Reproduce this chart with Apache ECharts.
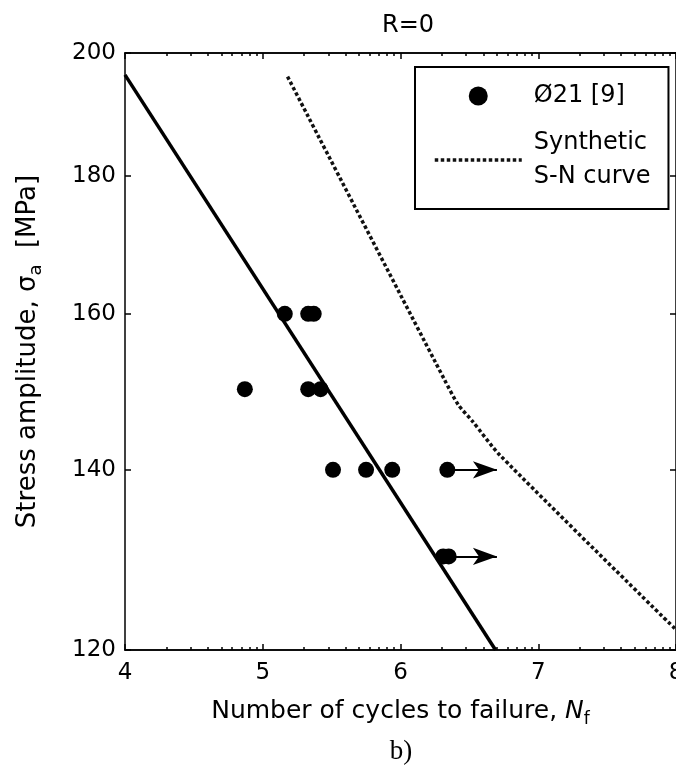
<!DOCTYPE html>
<html>
<head>
<meta charset="utf-8">
<script src="https://cdn.jsdelivr.net/npm/echarts@6/dist/echarts.min.js"></script>
<style>
html,body{margin:0;padding:0;background:#fff;}
#chart{width:676px;height:771px;}
</style>
</head>
<body>
<div id="chart"></div>
<script>
// ---- data ----
const xTicks = [4, 5, 6, 7, 8];
const yTicks = [120, 140, 160, 180, 200];
// experimental points, Ø21 [9]
const dotsX = [5.16, 5.33, 5.37, 4.87, 5.33, 5.42, 5.51, 5.75, 5.94, 6.34, 6.31, 6.35];
const dotsY = [160, 160, 160, 150, 150, 150, 140, 140, 140, 140, 130, 130];
// run-outs (arrows)
const runStartX = [6.34, 6.35];
const runY = [140, 130];
const runEndX = [6.70, 6.70];
// fitted (solid) line
const fitX = [4.0, 6.69];
const fitY = [196.3, 120];
// synthetic S-N curve (dotted)
const snX = [5.18, 6.32, 6.42, 6.52, 6.72, 8.0];
const snY = [196, 151.2, 148, 146, 141.8, 122.1];
// log-decade minor tick positions
const minorX = [];
for (let d = 4; d < 8; d++) for (let k = 2; k <= 9; k++) minorX.push(d + Math.log10(k));

const FONT = 'DejaVu Sans';
const chart = echarts.init(document.getElementById('chart'), null, {renderer: 'canvas'});

const axisLine = {show: true, lineStyle: {color: '#000', width: 1.5}};
function xAx(pos, ticks, len, labels, name) {
  const a = {
    type: 'value', position: pos, min: 4, max: 8, interval: 1,
    axisLine: axisLine, splitLine: {show: false},
    axisTick: {show: true, inside: true, length: len, lineStyle: {color: '#000', width: 1.5}},
    axisLabel: {show: labels, color: '#000', fontFamily: FONT, fontSize: 23, margin: 12},
  };
  if (ticks) a.axisTick.customValues = ticks;
  if (name) {
    a.name = '{n|Number of cycles to failure, }{i|N}{s|f}';
    a.nameLocation = 'middle';
    a.nameGap = 44;
    a.nameTextStyle = {
      color: '#000', fontFamily: FONT, fontSize: 25,
      rich: {
        n: {fontFamily: FONT, fontSize: 25, color: '#000', lineHeight: 34, verticalAlign: 'middle'},
        i: {fontFamily: FONT, fontSize: 25, color: '#000', fontStyle: 'italic', lineHeight: 34, verticalAlign: 'middle'},
        s: {fontFamily: FONT, fontSize: 17, color: '#000', lineHeight: 34, verticalAlign: 'bottom'}
      }
    };
  }
  return a;
}
function yAx(pos, labels, name) {
  const a = {
    type: 'log', logBase: 10, position: pos, min: 120, max: 200,
    axisLine: axisLine, splitLine: {show: false}, minorTick: {show: false},
    axisTick: {show: true, inside: true, length: 6, customValues: yTicks, lineStyle: {color: '#000', width: 1.5}},
    axisLabel: {show: labels, customValues: yTicks, color: '#000', fontFamily: FONT, fontSize: 23, margin: 9},
  };
  if (name) {
    a.name = '{n|Stress amplitude, σ}{s|a}{n|  [MPa]}';
    a.nameLocation = 'middle';
    a.nameGap = 80;
    a.nameTextStyle = {
      color: '#000', fontFamily: FONT, fontSize: 26,
      rich: {
        n: {fontFamily: FONT, fontSize: 26, color: '#000', lineHeight: 34, verticalAlign: 'middle'},
        s: {fontFamily: FONT, fontSize: 18, color: '#000', lineHeight: 34, verticalAlign: 'bottom'}
      }
    };
  }
  return a;
}

const option = {
  animation: false,
  backgroundColor: '#fff',
  title: [
    {text: 'R=0', left: 403, top: 9, textAlign: 'center',
     textStyle: {fontFamily: FONT, fontSize: 24, fontWeight: 'normal', color: '#000'}},
    {text: 'b)', left: 396, top: 733, textAlign: 'center',
     textStyle: {fontFamily: 'Liberation Serif', fontSize: 27, fontWeight: 'normal', color: '#000'}}
  ],
  grid: {left: 125, right: 0, top: 53, bottom: 121, containLabel: false, outerBoundsMode: 'none'},
  xAxis: [
    xAx('bottom', null, 6, true, true),
    xAx('bottom', minorX, 3, false, false),
    xAx('top', null, 6, false, false),
    xAx('top', minorX, 3, false, false)
  ],
  yAxis: [
    yAx('left', true, true),
    yAx('right', false, false)
  ],
  legend: {
    show: true, orient: 'vertical', left: 415, top: 67,
    padding: [12, 18, 15, 18], itemGap: 13,
    itemWidth: 87, itemHeight: 19,
    borderColor: '#000', borderWidth: 2, backgroundColor: '#fff',
    selectedMode: false,
    textStyle: {fontFamily: FONT, fontSize: 24, color: '#000', lineHeight: 34, padding: [0, 0, 0, 7]},
    data: [
      {name: 'Ø21 [9]', icon: 'circle', itemStyle: {color: '#000', opacity: 1}},
      {name: 'Synthetic\nS-N curve', itemStyle: {opacity: 0},
       lineStyle: {color: '#111', width: 3.5, type: [3.5, 2.5], opacity: 1}}
    ]
  },
  series: [
    {
      name: 'fit', type: 'line', xAxisIndex: 0, yAxisIndex: 0,
      data: fitX.map((x, i) => [x, fitY[i]]),
      symbol: 'none', lineStyle: {color: '#000', width: 3.5}, silent: true, z: 3
    },
    {
      name: 'Synthetic\nS-N curve', type: 'line', xAxisIndex: 0, yAxisIndex: 0,
      data: snX.map((x, i) => [x, snY[i]]),
      symbol: 'none', smooth: 0.25,
      lineStyle: {color: '#111', width: 3.5, type: [3.5, 2.5]},
      itemStyle: {color: '#111'}, silent: true, z: 3
    },
    {
      name: 'Ø21 [9]', type: 'scatter', xAxisIndex: 0, yAxisIndex: 0,
      data: dotsX.map((x, i) => [x, dotsY[i]]),
      symbol: 'circle', symbolSize: 16,
      itemStyle: {color: '#000', opacity: 1}, silent: true, z: 4,
      markLine: {
        silent: true, symbol: ['none', 'arrow'], symbolSize: [13, 24],
        label: {show: false},
        lineStyle: {color: '#000', width: 2.2, type: 'solid', opacity: 1},
        data: runY.map((y, i) => [{coord: [runStartX[i], y]}, {coord: [runEndX[i], y]}])
      }
    }
  ]
};
chart.setOption(option);
</script>
</body>
</html>
